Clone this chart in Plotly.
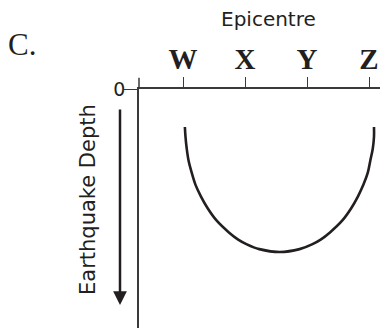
import plotly.graph_objects as go

# epicentre positions along the top axis
stations = ["W", "X", "Y", "Z"]
station_pos = [1, 2, 3, 4]

# depth curve (x in station units, depth arbitrary units)
curve_x = [1.03, 1.04, 1.06, 1.09, 1.14, 1.20, 1.29, 1.40, 1.54, 1.74, 1.89, 2.03, 2.23, 2.56,
           2.88, 3.08, 3.22, 3.37, 3.57, 3.71, 3.82, 3.91, 3.98, 4.02, 4.06, 4.08, 4.08]
curve_depth = [1.59, 2.0, 2.5, 3.0, 3.5, 4.0, 4.5, 5.0, 5.5, 6.0, 6.3, 6.5, 6.7, 6.82,
               6.7, 6.5, 6.3, 6.0, 5.5, 5.0, 4.5, 4.0, 3.5, 3.0, 2.5, 2.0, 1.59]

ink = "#231f20"
axis_col = "#3a3a3a"
sans = "DejaVu Sans"
serif = "Liberation Serif"

fig = go.Figure()
fig.add_trace(go.Scatter(x=curve_x, y=curve_depth, mode="lines",
                         line=dict(color=ink, width=2.6, shape="spline", smoothing=1),
                         hoverinfo="skip", showlegend=False))

# page body has an 8px margin, so the figure is 8px smaller than the window
fig.update_layout(
    width=380, height=320,
    margin=dict(l=131, r=0, t=81, b=0),
    paper_bgcolor="white", plot_bgcolor="white",
    showlegend=False,
    xaxis=dict(range=[0.29, 4.306], side="top", showgrid=False, zeroline=False,
               showline=True, linecolor=axis_col, linewidth=1.5, automargin=False,
               tickvals=station_pos, ticktext=stations, ticks="outside",
               ticklen=10, tickwidth=1.3, tickcolor=axis_col, ticklabelstandoff=-3,
               tickfont=dict(family=serif, size=29, color=ink, weight="bold"),
               fixedrange=True),
    yaxis=dict(range=[10, 0], showgrid=False, zeroline=False,
               showline=True, linecolor=axis_col, linewidth=1.5, automargin=False,
               tickvals=[0], ticktext=["0"], ticks="outside",
               ticklen=13, tickwidth=1.3, tickcolor=axis_col, ticklabelstandoff=-5,
               tickfont=dict(family=sans, size=19, color=ink),
               fixedrange=True),
)

# vertical axis pokes a little above the top axis
fig.add_shape(type="line", xref="paper", yref="paper", x0=0, x1=0, y0=1, y1=1.047,
              line=dict(color=axis_col, width=1.5))

fig.add_annotation(text="Epicentre", xref="paper", yref="paper", x=(268 - 139) / 249,
                   y=1 + (89 - 19) / 239, xanchor="center", yanchor="middle",
                   showarrow=False, borderpad=0,
                   font=dict(family=sans, size=20, color=ink))
fig.add_annotation(text="C.", xref="paper", yref="paper", x=(6 - 139) / 249,
                   y=1 + (89 - 45) / 239, xanchor="left", yanchor="middle", showarrow=False,
                   font=dict(family=serif, size=31, color=ink))
fig.add_annotation(text="Earthquake Depth", xref="paper", yref="paper", x=(88 - 139) / 249,
                   y=(328 - 200) / 239, xanchor="center", yanchor="middle",
                   textangle=-90, showarrow=False,
                   font=dict(family=sans, size=21, color=ink))
# depth arrow
fig.add_annotation(text="", xref="paper", yref="paper", x=(120 - 139) / 249,
                   y=(328 - 305) / 239, ax=0, ay=-197, showarrow=True,
                   arrowhead=2, arrowsize=1.1, arrowwidth=2.5, arrowcolor=ink)

fig.write_html("out.html")
